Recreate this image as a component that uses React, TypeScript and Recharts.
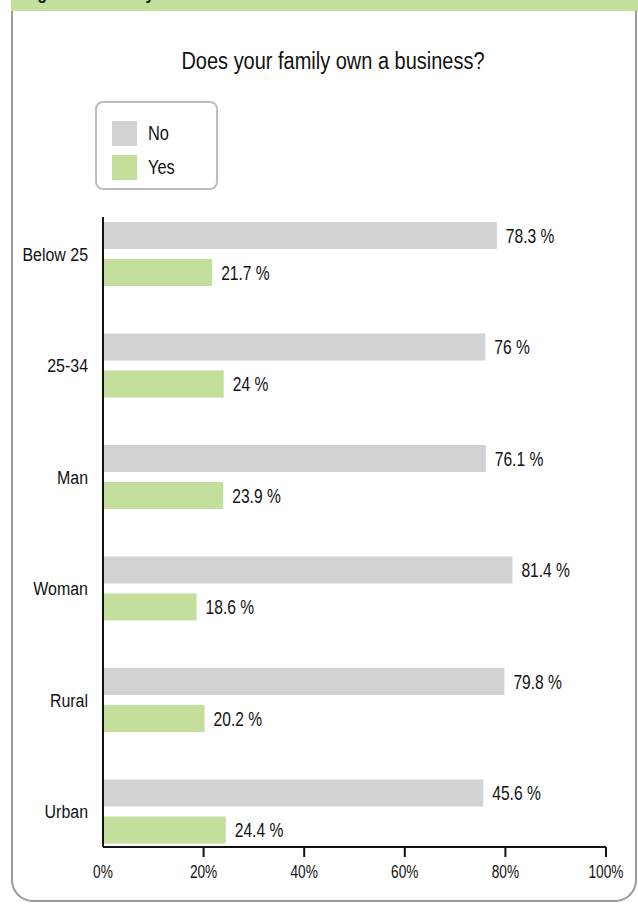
import React from 'react';
import { BarChart, Bar, XAxis, YAxis, Legend, LabelList } from 'recharts';

const categories = ['Below 25', '25-34', 'Man', 'Woman', 'Rural', 'Urban'];
const noValues = [78.3, 76, 76.1, 81.4, 79.8, 75.6];
const yesValues = [21.7, 24, 23.9, 18.6, 20.2, 24.4];
const noLabels = ['78.3 %', '76 %', '76.1 %', '81.4 %', '79.8 %', '45.6 %'];
const yesLabels = ['21.7 %', '24 %', '23.9 %', '18.6 %', '20.2 %', '24.4 %'];
const xTicks = [0, 20, 40, 60, 80, 100];

const data = categories.map((name, i) => ({
  name,
  no: noValues[i],
  yes: yesValues[i],
  noLabel: noLabels[i],
  yesLabel: yesLabels[i],
}));

const FONT = "'Liberation Sans', Arial, sans-serif";
const TEXT = '#111111';
const GREY = '#d1d2d4';
const GREEN = '#c4df9b';
const SX = 0.84;

const XTick = (props: any) => {
  const { x, y, payload } = props;
  return (
    <g>
      {payload.value !== 0 && (
        <line x1={x} x2={x} y1={y - 18} y2={y - 8} stroke={TEXT} strokeWidth={2} />
      )}
      <text
        transform={`translate(${x},${y}) scale(0.76,1)`}
        x={0}
        y={0}
        dy="0.71em"
        textAnchor="middle"
        fill={TEXT}
        fontSize={18}
        fontFamily={FONT}
      >
        {`${payload.value}%`}
      </text>
    </g>
  );
};

const YTick = (props: any) => {
  const { x, y, payload } = props;
  return (
    <text
      transform={`translate(${x},${y}) scale(${SX},1)`}
      x={0}
      y={0}
      dy="0.355em"
      textAnchor="end"
      fill={TEXT}
      fontSize={19}
      fontFamily={FONT}
    >
      {payload.value}
    </text>
  );
};

const ValueLabel = (props: any) => {
  const { x, y, width, height, value } = props;
  const tx = Number(x) + Number(width) + 9;
  const ty = Number(y) + Number(height) / 2;
  return (
    <text
      transform={`translate(${tx},${ty}) scale(0.78,1)`}
      x={0}
      y={0}
      dy="0.355em"
      textAnchor="start"
      fill={TEXT}
      fontSize={20}
      fontFamily={FONT}
    >
      {value}
    </text>
  );
};

const renderLegend = (props: any) => {
  const { payload } = props;
  return (
    <div
      style={{
        boxSizing: 'border-box',
        width: 123,
        height: 89,
        border: '2px solid #bdbdbd',
        borderRadius: 8,
        paddingTop: 13,
        paddingLeft: 15,
        fontFamily: FONT,
        fontSize: 20,
        color: TEXT,
        background: '#fff',
      }}
    >
      {(payload || []).map((entry: any) => (
        <div key={entry.value} style={{ display: 'flex', alignItems: 'center', height: 34 }}>
          <span style={{ display: 'inline-block', width: 25, height: 25, background: entry.color, flex: 'none' }} />
          <span
            style={{
              marginLeft: 11,
              lineHeight: '25px',
              display: 'inline-block',
              transform: 'scaleX(0.82)',
              transformOrigin: 'left center',
            }}
          >
            {entry.value}
          </span>
        </div>
      ))}
    </div>
  );
};

export default function App() {
  return (
    <div style={{ position: 'absolute', left: 0, top: 0, width: 638, height: 904, background: '#fff', overflow: 'hidden' }}>
      <div
        style={{
          position: 'absolute',
          left: 11,
          top: 0,
          width: 627,
          height: 11,
          background: GREEN,
          overflow: 'hidden',
        }}
      >
        <div
          style={{
            position: 'absolute',
            left: 12,
            top: -17,
            fontFamily: FONT,
            fontWeight: 'bold',
            fontSize: 19,
            lineHeight: '19px',
            color: TEXT,
            whiteSpace: 'nowrap',
            transform: `scaleX(${SX})`,
            transformOrigin: 'left top',
          }}
        >
          Figure 14: Family business
        </div>
      </div>
      <div
        style={{
          position: 'absolute',
          left: 11,
          top: 11,
          width: 626,
          height: 891,
          boxSizing: 'border-box',
          border: '2px solid #9a9a9a',
          borderTop: 'none',
          borderRadius: '0 0 22px 22px',
        }}
      />
      <div
        style={{
          position: 'absolute',
          left: 0,
          top: 50,
          width: 666,
          textAlign: 'center',
          fontFamily: FONT,
          fontSize: 23.5,
          lineHeight: '23.5px',
          color: TEXT,
          transform: 'scaleX(0.85)',
          transformOrigin: '333px 0',
        }}
      >
        Does your family own a business?
      </div>
      <div style={{ position: 'absolute', left: 0, top: 0 }}>
        <BarChart
          width={638}
          height={904}
          data={data}
          layout="vertical"
          margin={{ top: 217, right: 32, bottom: 17, left: 13 }}
          barSize={27}
          barGap={10}
        >
          <XAxis
            type="number"
            domain={[0, 100]}
            ticks={xTicks}
            interval={0}
            height={40}
            tickSize={10}
            tickMargin={8}
            tickLine={false}
            axisLine={{ stroke: TEXT, strokeWidth: 2 }}
            tick={<XTick />}
          />
          <YAxis
            type="category"
            dataKey="name"
            width={90}
            tickLine={false}
            tickSize={0}
            tickMargin={15}
            padding={{ top: -19, bottom: -20 }}
            axisLine={{ stroke: TEXT, strokeWidth: 2 }}
            tick={<YTick />}
          />
          <Legend
            layout="vertical"
            align="center"
            verticalAlign="middle"
            content={renderLegend}
            wrapperStyle={{ position: 'absolute', left: 95, top: 101, width: 123, height: 89 }}
          />
          <Bar dataKey="no" name="No" fill={GREY} isAnimationActive={false}>
            <LabelList dataKey="noLabel" content={<ValueLabel />} />
          </Bar>
          <Bar dataKey="yes" name="Yes" fill={GREEN} isAnimationActive={false}>
            <LabelList dataKey="yesLabel" content={<ValueLabel />} />
          </Bar>
        </BarChart>
      </div>
    </div>
  );
}
